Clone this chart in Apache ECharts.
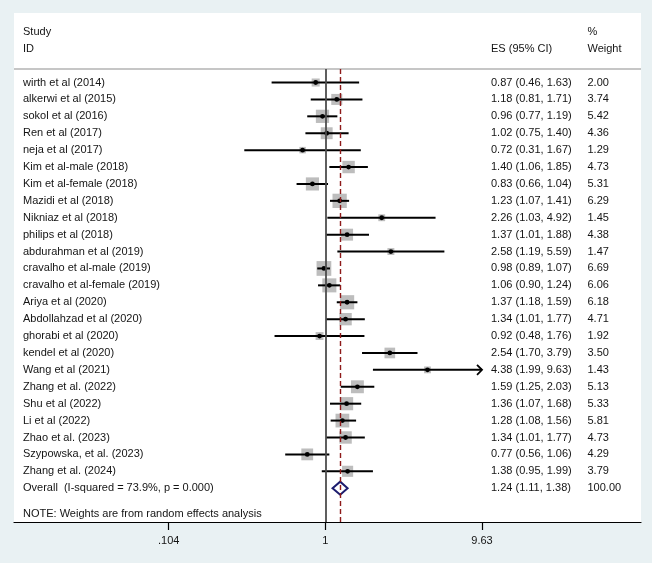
<!DOCTYPE html>
<html><head><meta charset="utf-8">
<script src="https://cdn.jsdelivr.net/npm/echarts@6/dist/echarts.min.js"></script>
<style>html,body{margin:0;padding:0;background:#e9f1f3}#c{width:652px;height:563px}</style>
</head><body><div id="c"></div>
<script>
const studies = [
  'wirth et al (2014)', 'alkerwi et al (2015)', 'sokol et al (2016)', 'Ren et al (2017)',
  'neja et al (2017)', 'Kim et al-male (2018)', 'Kim et al-female (2018)', 'Mazidi et al (2018)',
  'Nikniaz et al (2018)', 'philips et al (2018)', 'abdurahman et al (2019)', 'cravalho et al-male (2019)',
  'cravalho et al-female (2019)', 'Ariya et al (2020)', 'Abdollahzad et al (2020)', 'ghorabi et al (2020)',
  'kendel et al (2020)', 'Wang et al (2021)', 'Zhang et al. (2022)', 'Shu et al (2022)',
  'Li et al (2022)', 'Zhao et al. (2023)', 'Szypowska, et al. (2023)', 'Zhang et al. (2024)'
];
const es    = [0.87, 1.18, 0.96, 1.02, 0.72, 1.40, 0.83, 1.23, 2.26, 1.37, 2.58, 0.98, 1.06, 1.37, 1.34, 0.92, 2.54, 4.38, 1.59, 1.36, 1.28, 1.34, 0.77, 1.38];
const lower = [0.46, 0.81, 0.77, 0.75, 0.31, 1.06, 0.66, 1.07, 1.03, 1.01, 1.19, 0.89, 0.90, 1.18, 1.01, 0.48, 1.70, 1.99, 1.25, 1.07, 1.08, 1.01, 0.56, 0.95];
const upper = [1.63, 1.71, 1.19, 1.40, 1.67, 1.85, 1.04, 1.41, 4.92, 1.88, 5.59, 1.07, 1.24, 1.59, 1.77, 1.76, 3.79, 9.63, 2.03, 1.68, 1.56, 1.77, 1.06, 1.99];
const weights = [2.00, 3.74, 5.42, 4.36, 1.29, 4.73, 5.31, 6.29, 1.45, 4.38, 1.47, 6.69, 6.06, 6.18, 4.71, 1.92, 3.50, 1.43, 5.13, 5.33, 5.81, 4.73, 4.29, 3.79];
const clippedHigh = [false, false, false, false, false, false, false, false, false, false, false, false, false, false, false, false, false, true, false, false, false, false, false, false];
const overallLabel = 'Overall  (I-squared = 73.9%, p = 0.000)';
const overallES = 1.24, overallLower = 1.11, overallUpper = 1.38, overallWeight = 100.00;
const tickValues = [0.104, 1, 9.63];
const tickLabels = ['.104', '1', '9.63'];

const FONT = '11px "Liberation Sans", Arial, sans-serif';
const TXT = '#141414';
const rowLabels = studies.concat([overallLabel]);
const rowES = es.concat([overallES]), rowLo = lower.concat([overallLower]), rowHi = upper.concat([overallUpper]);
const rowW = weights.concat([overallWeight]);
const overallRow = studies.length;

const chart = echarts.init(document.getElementById('c'));

function renderStudy(params, api) {
  const e = api.value(0), lo = api.value(1), hi = api.value(2), w = api.value(3), r = api.value(4);
  const c = api.coord([e, r]), pl = api.coord([lo, r]), ph = api.coord([hi, r]);
  const side = 5.7 * Math.sqrt(w);
  const ch = [
    {type: 'rect', shape: {x: c[0] - side / 2, y: c[1] - side / 2, width: side, height: side}, style: {fill: '#bdbdbd'}},
    {type: 'line', shape: {x1: pl[0], y1: c[1], x2: ph[0], y2: c[1]}, style: {stroke: '#000', lineWidth: 2}},
    {type: 'circle', shape: {cx: c[0], cy: c[1], r: 2.4}, style: {fill: '#000'}}
  ];
  if (clippedHigh[r]) {
    ch.push({type: 'polyline', shape: {points: [[ph[0] - 5, c[1] - 5], [ph[0], c[1]], [ph[0] - 5, c[1] + 5]]},
      style: {stroke: '#000', lineWidth: 1.8, fill: null}});
  }
  return {type: 'group', children: ch};
}

function renderOverall(params, api) {
  const e = api.value(0), lo = api.value(1), hi = api.value(2), r = api.value(3);
  const c = api.coord([e, r]), pl = api.coord([lo, r]), ph = api.coord([hi, r]);
  return {type: 'polygon', shape: {points: [[pl[0], c[1]], [c[0], c[1] - 6.5], [ph[0], c[1]], [c[0], c[1] + 6.5]]},
    style: {fill: '#fff', stroke: '#1c1c6e', lineWidth: 2}};
}

function renderText(params, api) {
  const r = api.value(1);
  const y = api.coord([1, r])[1];
  const esTxt = rowES[r].toFixed(2) + ' (' + rowLo[r].toFixed(2) + ', ' + rowHi[r].toFixed(2) + ')';
  return {type: 'group', children: [
    {type: 'text', style: {x: 23, y: y, text: rowLabels[r], font: FONT, fill: TXT, verticalAlign: 'middle'}},
    {type: 'text', style: {x: 491, y: y, text: esTxt, font: FONT, fill: TXT, verticalAlign: 'middle'}},
    {type: 'text', style: {x: 587.5, y: y, text: rowW[r].toFixed(2), font: FONT, fill: TXT, verticalAlign: 'middle'}}
  ]};
}

const option = {
  backgroundColor: '#e9f1f3',
  animation: false,
  grid: {left: 14, right: 11, top: 69, bottom: 41, show: false},
  xAxis: {
    type: 'log', logBase: 10, min: 0.01111, max: 95.86, position: 'bottom',
    axisLine: {show: true, onZero: false, lineStyle: {color: '#000', width: 1.2}},
    axisTick: {show: true, customValues: tickValues, length: 8, lineStyle: {color: '#000', width: 1.2}},
    axisLabel: {customValues: tickValues, margin: 13, color: TXT, fontSize: 11, fontFamily: 'Liberation Sans, Arial',
      formatter: function (v) {
        let best = 0;
        tickValues.forEach(function (t, i) { if (Math.abs(Math.log(t) - Math.log(v)) < Math.abs(Math.log(tickValues[best]) - Math.log(v))) best = i; });
        return tickLabels[best];
      }},
    splitLine: {show: false}, minorTick: {show: false}
  },
  yAxis: {type: 'value', inverse: true, min: -0.8, max: 26.0, show: false},
  graphic: [
    {type: 'rect', z: -10, shape: {x: 14, y: 13, width: 627, height: 509}, style: {fill: '#ffffff'}},
    {type: 'line', z: -5, shape: {x1: 14, y1: 69, x2: 641, y2: 69}, style: {stroke: '#b3b3b3', lineWidth: 1.5}},
    {type: 'text', style: {x: 23, y: 32, text: 'Study', font: FONT, fill: TXT, verticalAlign: 'middle'}},
    {type: 'text', style: {x: 23, y: 49, text: 'ID', font: FONT, fill: TXT, verticalAlign: 'middle'}},
    {type: 'text', style: {x: 491, y: 49, text: 'ES (95% CI)', font: FONT, fill: TXT, verticalAlign: 'middle'}},
    {type: 'text', style: {x: 587.5, y: 32, text: '%', font: FONT, fill: TXT, verticalAlign: 'middle'}},
    {type: 'text', style: {x: 587.5, y: 49, text: 'Weight', font: FONT, fill: TXT, verticalAlign: 'middle'}},
    {type: 'text', style: {x: 23, y: 514, text: 'NOTE: Weights are from random effects analysis', font: FONT, fill: TXT, verticalAlign: 'middle'}}
  ],
  series: [
    {
      type: 'custom', name: 'refs', z: 1, silent: true,
      data: [[overallES, overallRow]],
      renderItem: function () { return {type: 'group', children: []}; },
      markLine: {
        symbol: 'none', silent: true, label: {show: false}, animation: false,
        data: [
          {xAxis: 1, lineStyle: {color: '#4d4d4d', width: 1.8, type: 'solid'}},
          {xAxis: overallES, lineStyle: {color: '#8e1a1a', width: 1.4, type: [5, 3]}}
        ]
      }
    },
    {
      type: 'custom', name: 'studies', z: 3, silent: true,
      data: studies.map(function (s, i) { return [es[i], lower[i], upper[i], weights[i], i]; }),
      encode: {x: 0, y: 4},
      renderItem: renderStudy
    },
    {
      type: 'custom', name: 'overall', z: 4, silent: true,
      data: [[overallES, overallLower, overallUpper, overallRow]],
      encode: {x: 0, y: 3},
      renderItem: renderOverall
    },
    {
      type: 'custom', name: 'text', z: 5, silent: true,
      data: rowLabels.map(function (s, i) { return [1, i]; }),
      encode: {x: 0, y: 1},
      renderItem: renderText
    }
  ]
};
chart.setOption(option);
</script>
</body></html>
